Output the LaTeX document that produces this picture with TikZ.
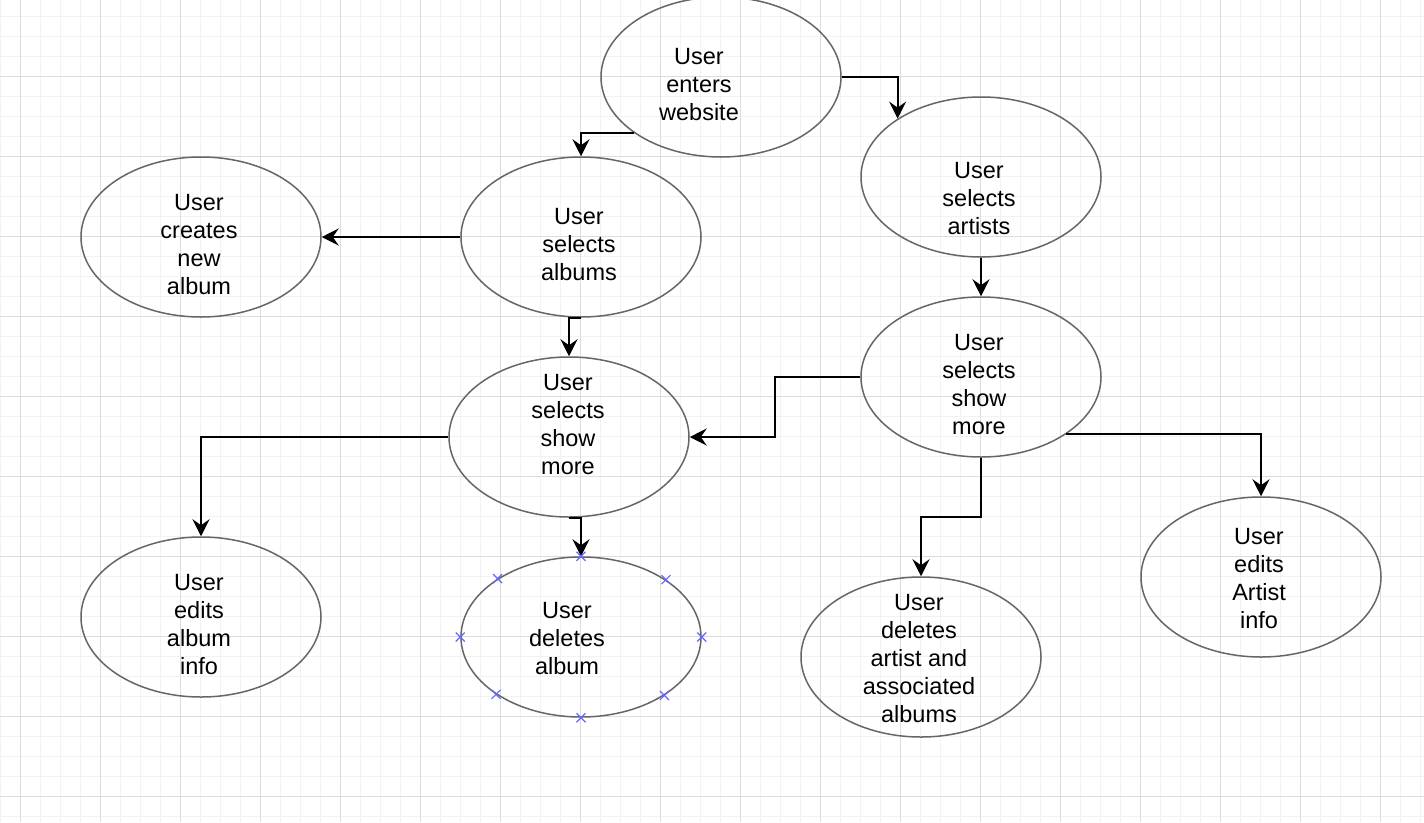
\documentclass[tikz,border=0pt]{standalone}
\usepackage{fontspec}
\setmainfont{Liberation Sans}
\usetikzlibrary{arrows.meta,calc,shapes.geometric}
\definecolor{gridminor}{HTML}{F2F2F2}
\definecolor{gridmajor}{HTML}{DCDCDC}
\definecolor{ellstroke}{HTML}{666666}
\definecolor{markblue}{HTML}{6666FF}
\newcommand{\lstrut}{\rule[-6pt]{0pt}{28pt}}
\begin{document}
\begin{tikzpicture}[x=1pt,y=-1pt,
  usecase/.style={ellipse, draw=ellstroke, line width=1.5pt, minimum width=240pt,
    minimum height=160pt, inner sep=0pt},
  casetext/.style={inner sep=0pt, align=center, font=\fontsize{23.5}{28}\selectfont},
  flow/.style={draw=black, line width=2pt, -{Stealth[length=17pt,width=17pt,inset=6pt]}},
  markcross/.style={draw=markblue, line width=1.1pt},
  minorline/.style={draw=gridminor, line width=1pt},
  majorline/.style={draw=gridmajor, line width=1pt}]
\useasboundingbox (0,0) rectangle (1424,822);
\clip (0,0) rectangle (1424,822);
\fill[white] (0,0) rectangle (1424,822);
% grid
\foreach \x in {0,20,...,1420} \draw[minorline] (\x,0) -- (\x,822);
\foreach \y in {16,36,...,816} \draw[minorline] (0,\y) -- (1424,\y);
\foreach \x in {20,100,...,1420} \draw[majorline] (\x,0) -- (\x,822);
\foreach \y in {76,156,...,796} \draw[majorline] (0,\y) -- (1424,\y);
% ellipses
\node[usecase] (web)  at (721,77)  {};
\node[usecase] (art)  at (981,177) {};
\node[usecase] (alb)  at (581,237) {};
\node[usecase] (cre)  at (201,237) {};
\node[usecase] (shA)  at (569,437) {};
\node[usecase] (shB)  at (981,377) {};
\node[usecase] (edA)  at (201,617) {};
\node[usecase] (delA) at (581,637) {};
\node[usecase] (delB) at (921,657) {};
\node[usecase] (edB)  at (1261,577) {};
% texts
\node[casetext] (webt)  at ($(web)+(-22,7)$)  {\lstrut User\\\lstrut enters\\\lstrut website};
\node[casetext] (artt)  at ($(art)+(-2,21)$)  {\lstrut User\\\lstrut selects\\\lstrut artists};
\node[casetext] (albt)  at ($(alb)+(-2,7)$)   {\lstrut User\\\lstrut selects\\\lstrut albums};
\node[casetext] (cret)  at ($(cre)+(-2,7)$)   {\lstrut User\\\lstrut creates\\\lstrut new\\\lstrut album};
\node[casetext] (shAt)  at ($(shA)+(-1,-13)$) {\lstrut User\\\lstrut selects\\\lstrut show\\\lstrut more};
\node[casetext] (shBt)  at ($(shB)+(-2,7)$)   {\lstrut User\\\lstrut selects\\\lstrut show\\\lstrut more};
\node[casetext] (edAt)  at ($(edA)+(-2,7)$)   {\lstrut User\\\lstrut edits\\\lstrut album\\\lstrut info};
\node[casetext] (delAt) at ($(delA)+(-14,1)$) {\lstrut User\\\lstrut deletes\\\lstrut album};
\node[casetext] (delBt) at ($(delB)+(-2,1)$)  {\lstrut User\\\lstrut deletes\\\lstrut artist and\\\lstrut associated\\\lstrut albums};
\node[casetext] (edBt)  at ($(edB)+(-2,1)$)   {\lstrut User\\\lstrut edits\\\lstrut Artist\\\lstrut info};
% connectors
\draw[flow] (web.east) -| (art.145.8);
\draw[flow] (web.213.7) -| (alb.north);
\draw[flow] (alb.west) -- (cre.east);
\draw[flow] (alb.south) -| (shA.north);
\draw[flow] (art.south) -- (shB.north);
\draw[flow] (shB.west) -| ($(shB.west)!0.5!(shA.east)$) |- (shA.east);
\draw[flow] (shA.west) -| (edA.north);
\draw[flow] (shA.south) -| (delA.north);
\draw[flow] (shB.south) |- ($(shB.south)!0.5!(delB.north)$) -| (delB.north);
\draw[flow] (shB.326.9) -| (edB.north);
% selection markers
\foreach \a in {north,south,east,west,34.16,145.84,214.16,325.84}
  \draw[markcross] ([shift={(-4.5,-4.5)}]delA.\a) -- ([shift={(4.5,4.5)}]delA.\a)
                   ([shift={(-4.5,4.5)}]delA.\a) -- ([shift={(4.5,-4.5)}]delA.\a);
\end{tikzpicture}
\end{document}
